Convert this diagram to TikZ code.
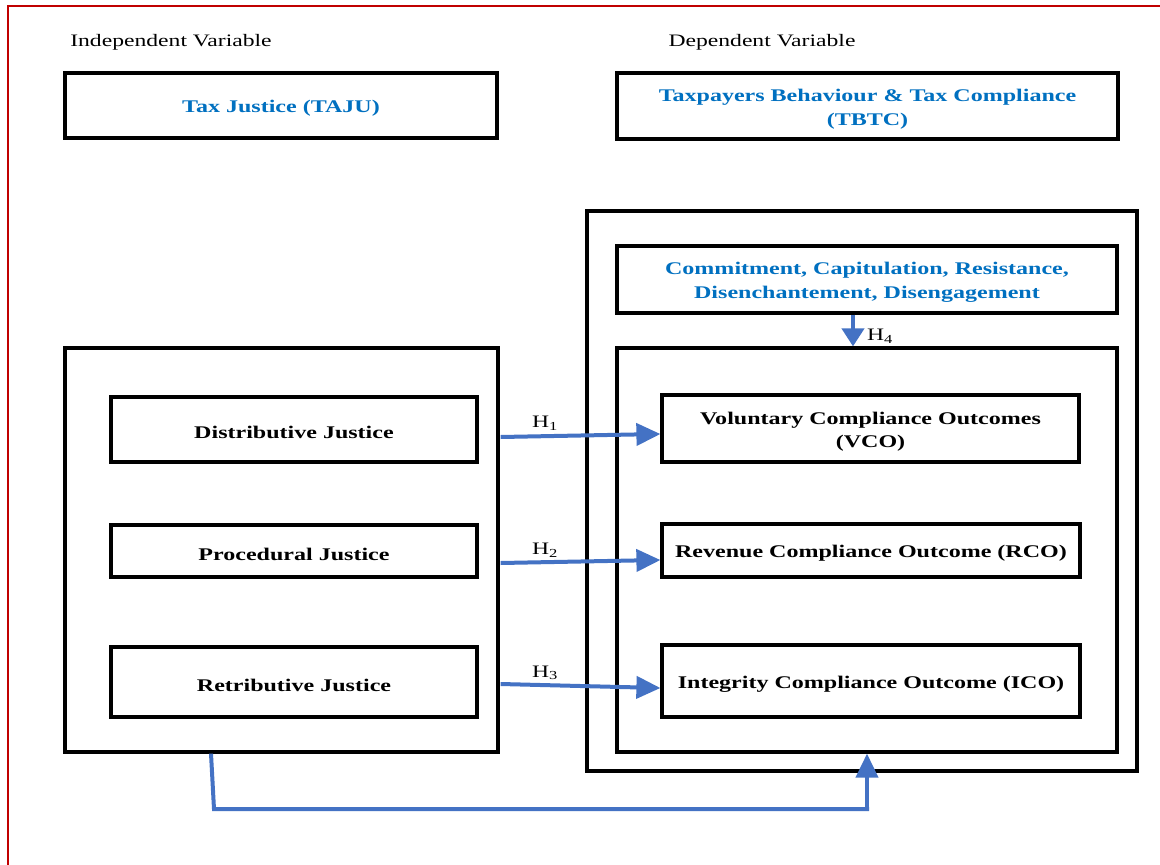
\documentclass[tikz,border=0pt]{standalone}
\usepackage{fontspec}
\setmainfont{Liberation Serif}[FakeStretch=1.35]
\usetikzlibrary{arrows.meta}
\definecolor{tblue}{HTML}{0070C0}
\definecolor{ablue}{HTML}{4472C4}
\definecolor{fred}{HTML}{C00000}
\begin{document}
\begin{tikzpicture}[x=1pt,y=-1pt,
  box/.style={draw=black,line width=3.2pt,inner sep=0pt,fill=none},
  btxt/.style={font=\fontsize{17.8}{23.5}\selectfont\bfseries,align=center,yshift=-3pt},
  bluetxt/.style={btxt,text=tblue},
  rtxt/.style={font=\fontsize{17.5}{22}\selectfont,yshift=-2pt},
  arr/.style={draw=ablue,line width=4pt,-{Triangle[length=24pt,width=22pt]}},
  conn/.style={draw=ablue,line width=4pt}]
\useasboundingbox (0,0) rectangle (1160,865);
\fill[white] (0,0) rectangle (1160,865);
% red frame
\draw[fred,line width=2.2pt] (8,865) -- (8,6) -- (1160,6);
% headings
\node[rtxt] (indep) at (171,40) {Independent Variable};
\node[rtxt] (dep) at (762,40) {Dependent Variable};
% top boxes
\node[box,minimum width=432,minimum height=65] (taju) at (281,105.5) {};
\node[bluetxt] (tajut) at (taju.center) {Tax Justice (TAJU)};
\node[box,minimum width=501,minimum height=66] (tbtc) at (867.5,106) {};
\node[bluetxt] (tbtct) at (tbtc.center) {Taxpayers Behaviour \& Tax Compliance\\(TBTC)};
% right side
\node[box,minimum width=550,minimum height=560] (outer) at (862,491) {};
\node[box,minimum width=500,minimum height=67] (commit) at (867,279.5) {};
\node[bluetxt] (committ) at (commit.center) {Commitment, Capitulation, Resistance,\\Disenchantement, Disengagement};
\node[box,minimum width=500,minimum height=404] (inner) at (867,550) {};
\node[box,minimum width=417,minimum height=67] (vco) at (870.5,428.5) {};
\node[btxt] (vcot) at (vco.center) {Voluntary Compliance Outcomes\\(VCO)};
\node[box,minimum width=418,minimum height=53] (rco) at (871,550.5) {};
\node[btxt] (rcot) at (rco.center) {Revenue Compliance Outcome (RCO)};
\node[box,minimum width=418,minimum height=72] (ico) at (871,681) {};
\node[btxt] (icot) at (ico.center) {Integrity Compliance Outcome (ICO)};
% left side
\node[box,minimum width=433,minimum height=404] (left) at (281.5,550) {};
\node[box,minimum width=366,minimum height=65] (dj) at (294,429.5) {};
\node[btxt] (djt) at (dj.center) {Distributive Justice};
\node[box,minimum width=366,minimum height=52] (pj) at (294,551) {};
\node[btxt] (pjt) at (pj.center) {Procedural Justice};
\node[box,minimum width=366,minimum height=70] (rj) at (294,682) {};
\node[btxt] (rjt) at (rj.center) {Retributive Justice};
% arrows
\draw[arr] ([xshift=1pt]left.east |- 0,437) -- (vco.west |- 0,434);
\draw[arr] ([xshift=1pt]left.east |- 0,563) -- (rco.west |- 0,560);
\draw[arr] ([xshift=1pt]left.east |- 0,684) -- (ico.west |- 0,688);
\draw[arr,-{Triangle[length=18pt,width=22pt]}] (commit.south -| 853,0) -- (inner.north -| 853,0);
\coordinate (b1) at (214,809);
\coordinate (b2) at (867,809);
\draw[conn] (left.south -| 211,0) -- (b1) -- ([xshift=2pt]b2);
\draw[arr] (b2) -- (inner.south -| 867,0);
% labels
\node[rtxt] (h1) at (545,421) {H\textsubscript{1}};
\node[rtxt] (h2) at (545,548) {H\textsubscript{2}};
\node[rtxt] (h3) at (545,671) {H\textsubscript{3}};
\node[rtxt] (h4) at (880,334) {H\textsubscript{4}};
\end{tikzpicture}
\end{document}
